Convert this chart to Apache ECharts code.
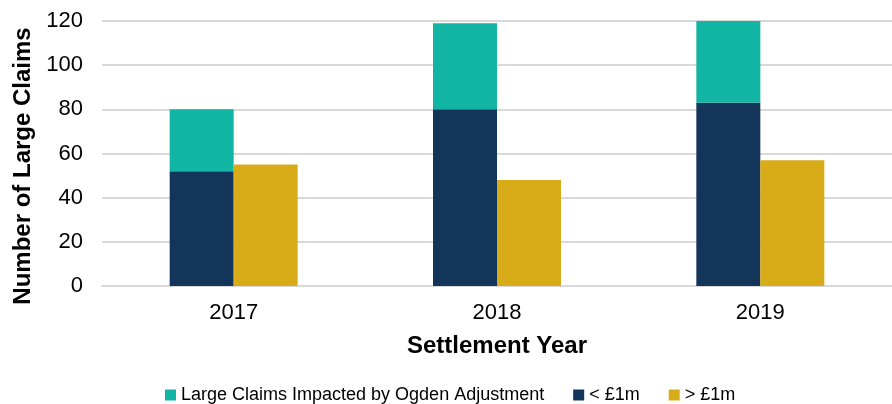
<!DOCTYPE html>
<html>
<head>
<meta charset="utf-8">
<script src="https://cdn.jsdelivr.net/npm/echarts@6/dist/echarts.min.js"></script>
<style>
  html, body { margin: 0; padding: 0; background: #fff; }
  #chart { width: 892px; height: 404px; }
</style>
</head>
<body>
<div id="chart"></div>
<script>
// settlement years
const years = ['2017', '2018', '2019'];
// < £1m claims (bottom of stack)
const underOneM = [52, 80, 83];
// claims impacted by Ogden adjustment (top of stack)
const ogden = [28, 39, 37];
// > £1m claims
const overOneM = [55, 48, 57];

const colors = { ogden: '#12B4A4', under: '#133559', over: '#D8AB18' };
const font = 'Liberation Sans, Arial, sans-serif';

const chart = echarts.init(document.getElementById('chart'));
chart.setOption({
  animation: false,
  textStyle: { fontFamily: font },
  legend: {
    bottom: -5,
    left: 160,
    itemWidth: 11,
    itemHeight: 11,
    itemGap: 29,
    icon: 'rect',
    textStyle: { fontSize: 18, color: '#000', fontFamily: font },
    data: ['Large Claims Impacted by Ogden Adjustment', '< £1m', '> £1m']
  },
  grid: { left: 102, right: -13, top: 21, bottom: 118 },
  xAxis: {
    type: 'category',
    data: years,
    name: 'Settlement Year',
    nameLocation: 'middle',
    nameGap: 48,
    nameTextStyle: { fontSize: 24, fontWeight: 'bold', color: '#000' },
    axisLine: { lineStyle: { color: '#D9D9D9', width: 2 } },
    axisTick: { show: false },
    axisLabel: { fontSize: 22, color: '#000', margin: 16 }
  },
  yAxis: {
    type: 'value',
    min: 0,
    max: 120,
    interval: 20,
    name: 'Number of Large Claims',
    nameLocation: 'middle',
    nameGap: 63,
    nameTextStyle: { fontSize: 24, fontWeight: 'bold', color: '#000', padding: [0, 25, 0, 0] },
    axisLine: { show: false },
    axisTick: { show: false },
    axisLabel: { fontSize: 22, color: '#000', margin: 19 },
    splitLine: { lineStyle: { color: '#D9D9D9', width: 2 } }
  },
  series: [
    {
      name: '< £1m',
      type: 'bar',
      stack: 'small',
      barWidth: 64,
      barGap: '0%',
      itemStyle: { color: colors.under },
      data: underOneM
    },
    {
      name: 'Large Claims Impacted by Ogden Adjustment',
      type: 'bar',
      stack: 'small',
      barWidth: 64,
      itemStyle: { color: colors.ogden },
      data: ogden
    },
    {
      name: '> £1m',
      type: 'bar',
      barWidth: 64,
      barGap: '0%',
      itemStyle: { color: colors.over },
      data: overOneM
    }
  ]
});
</script>
</body>
</html>
